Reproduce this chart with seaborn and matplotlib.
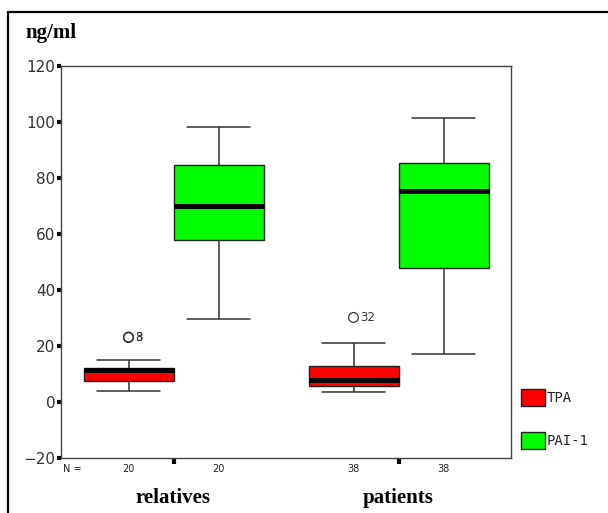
import numpy as np
import pandas as pd
import matplotlib
matplotlib.use("Agg")
import matplotlib.pyplot as plt
from matplotlib.patches import Rectangle
import seaborn as sns

# 5-number summaries (min, Q1, median, Q3, max)
groups = ["relatives", "patients"]
markers = ["TPA", "PAI-1"]
n_counts = {"relatives": [20, 20], "patients": [38, 38]}
tpa_relatives = [3.9, 7.5, 11.3, 12.3, 15.0]
pai_relatives = [29.7, 57.7, 70.0, 84.8, 98.2]
tpa_patients = [3.7, 5.8, 8.0, 12.9, 20.9]
pai_patients = [17.2, 47.7, 75.3, 85.2, 101.3]

# outliers (TPA only)
out_group = ["relatives", "relatives", "patients"]
out_marker = ["TPA", "TPA", "TPA"]
out_value = [23.2, 23.0, 30.2]
out_label = ["8", "3", "32"]

palette = {"TPA": "#ff0000", "PAI-1": "#00ff00"}

rows = []
for g, m, vals in [("relatives", "TPA", tpa_relatives), ("relatives", "PAI-1", pai_relatives),
                   ("patients", "TPA", tpa_patients), ("patients", "PAI-1", pai_patients)]:
    for v in vals:
        rows.append({"group": g, "marker": m, "value": v})
df = pd.DataFrame(rows)
df_out = pd.DataFrame({"group": out_group, "marker": out_marker, "value": out_value})

sns.set_style("white")
plt.rcParams['font.family'] = ['DejaVu Sans']

fig = plt.figure(figsize=(6.08, 5.13), dpi=100)
ax = fig.add_axes([61 / 608, 1 - 458 / 513, 450 / 608, 392 / 513])

sns.boxplot(data=df, x="group", y="value", hue="marker", order=groups, hue_order=markers,
            palette=palette, whis=np.inf, width=0.8, gap=0, saturation=1, ax=ax,
            boxprops=dict(edgecolor="#222222", linewidth=1.0),
            medianprops=dict(color="black", linewidth=3.6),
            whiskerprops=dict(color="#333333", linewidth=1.1),
            capprops=dict(color="#333333", linewidth=1.1))

# widen the caps a bit (caps are the short horizontal lines)
for ln in ax.lines:
    xd, yd = np.asarray(ln.get_xdata(), float), np.asarray(ln.get_ydata(), float)
    if len(xd) == 2 and yd[0] == yd[1] and abs(abs(xd[1] - xd[0]) - 0.2) < 1e-6:
        c = xd.mean()
        ln.set_xdata([c - 0.142, c + 0.142])

# outliers as open circles with case numbers
n_before = len(ax.collections)
sns.stripplot(data=df_out, x="group", y="value", hue="marker", order=groups, hue_order=markers,
              dodge=True, jitter=False, marker="o", s=7,
              edgecolor="#333333", linewidth=0.9, legend=False, ax=ax)
pts = []
for c in ax.collections[n_before:]:
    c.set_facecolor("none")
    c.set_edgecolor("#333333")
    if len(c.get_offsets()):
        pts.append(c.get_offsets())
pts = np.vstack(pts)
for (px, py), lab in zip(pts, out_label):
    ax.text(px + 0.028, py, lab, fontsize=8.5, color="#333333", va="center", ha="left")

ax.set_ylim(-20, 120)
ax.set_xlim(-0.5, 1.5)
ax.set_yticks(range(-20, 121, 20))
ax.set_xticks([0, 1])
ax.set_xticklabels(["", ""])
ax.set_xlabel("")
ax.set_ylabel("")
ax.tick_params(axis="both", direction="out", length=3, width=3, color="black",
               labelsize=11, labelcolor="#333333", pad=1, left=True, bottom=True)
ax.tick_params(axis="x", length=4)
for s in ax.spines.values():
    s.set_color("#444444")
    s.set_linewidth(1.0)
    s.set_visible(True)

# N = row and group labels
tr = ax.get_xaxis_transform()
ax.text(-0.49, -0.027, "N =", transform=tr, fontsize=7, ha="left", va="center", color="#222222")
for gi, g in enumerate(groups):
    for hi, n in enumerate(n_counts[g]):
        ax.text(gi - 0.2 + 0.4 * hi, -0.027, str(n), transform=tr, fontsize=7,
                ha="center", va="center", color="#222222")
    ax.text(gi, -0.102, g, transform=tr, fontsize=15, fontweight="bold", color="black",
            family="Liberation Serif", ha="center", va="center")

fig.text(25 / 608, 1 - 33 / 513, "ng/ml", fontsize=15, fontweight="bold", color="black",
         family="Liberation Serif", ha="left", va="center")

# legend on the right
sns.move_legend(ax, loc="upper left", bbox_to_anchor=(521 / 608, 1 - 389 / 513),
                bbox_transform=fig.transFigure, frameon=False, title=None,
                borderpad=0, borderaxespad=0, handlelength=1.7, handleheight=1.5,
                handletextpad=0.15, labelspacing=1.9,
                prop={"family": "DejaVu Sans Mono", "size": 10})
for h in ax.get_legend().legend_handles:
    h.set_edgecolor("#222222")
    h.set_linewidth(1.0)

# outer frame
fig.patches.append(Rectangle((8 / 608, -0.1), 1.2, 1 - 12 / 513 + 0.1, transform=fig.transFigure,
                             fill=False, edgecolor="black", linewidth=1.6, clip_on=False))

fig.savefig("out.png", dpi=100)
